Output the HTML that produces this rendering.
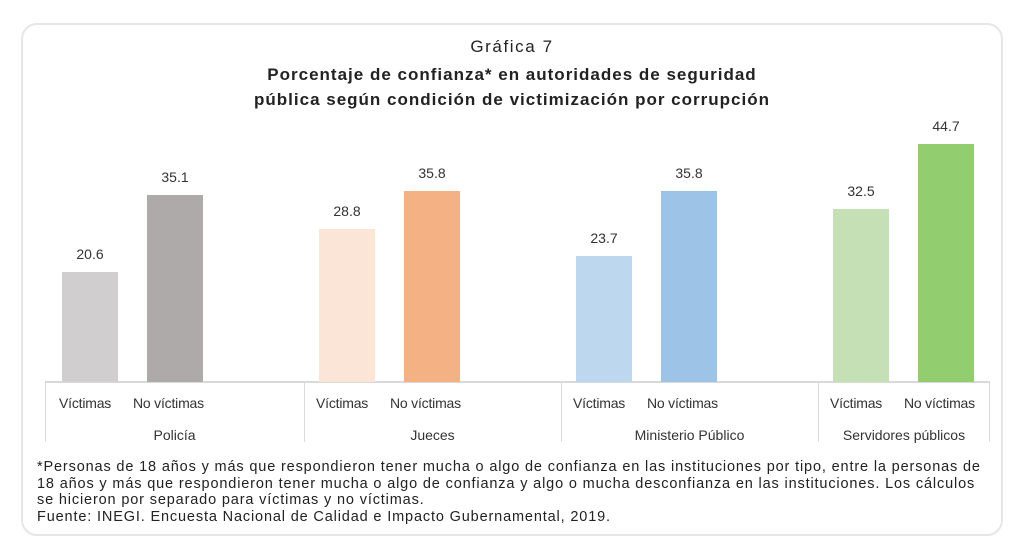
<!DOCTYPE html>
<html><head><meta charset="utf-8"><style>
body{margin:0;width:1024px;height:552px;background:#fff;font-family:"Liberation Sans",sans-serif;color:#333;position:relative;overflow:hidden}
.card{position:absolute;left:21px;top:23px;width:982px;height:513px;border:2px solid #e6e6e6;border-radius:16px;box-sizing:border-box}
.t{position:absolute;left:0;width:1024px;text-align:center;font-size:17px;color:#222;letter-spacing:1px}
.b{font-weight:bold}
.bar{position:absolute;width:56px;bottom:170px}
.v{position:absolute;width:56px;text-align:center;font-size:14px;color:#333}
.l{position:absolute;font-size:14px;top:395px;white-space:nowrap;letter-spacing:-0.2px}
.g{position:absolute;font-size:14px;top:427px;text-align:center;white-space:nowrap}
.d{position:absolute;top:382px;width:1px;height:60px;background:#d9d9d9}
.f{position:absolute;left:37px;top:459px;font-size:14.5px;line-height:16.5px;color:#222;width:960px;letter-spacing:0.85px;white-space:nowrap}
</style></head><body>
<div class="card"></div>
<div class="t" style="top:37px;letter-spacing:1.6px">Gráfica 7</div>
<div class="t b" style="top:65px">Porcentaje de confianza* en autoridades de seguridad</div>
<div class="t b" style="top:90px">pública según condición de victimización por corrupción</div>
<div style="position:absolute;left:45px;top:381px;width:945px;height:2px;background:#d9d9d9"></div>
<div class="d" style="left:45px"></div><div class="d" style="left:304px"></div><div class="d" style="left:561px"></div><div class="d" style="left:818px"></div><div class="d" style="left:989px"></div>

<div class="bar" style="left:62px;height:110px;background:#d0cece"></div><div class="v" style="left:62px;top:246px">20.6</div>
<div class="bar" style="left:147px;height:187px;background:#aeaaaa"></div><div class="v" style="left:147px;top:169px">35.1</div>
<div class="bar" style="left:319px;height:153px;background:#fbe5d6"></div><div class="v" style="left:319px;top:203px">28.8</div>
<div class="bar" style="left:404px;height:191px;background:#f4b183"></div><div class="v" style="left:404px;top:165px">35.8</div>
<div class="bar" style="left:576px;height:126px;background:#bdd7ee"></div><div class="v" style="left:576px;top:230px">23.7</div>
<div class="bar" style="left:661px;height:191px;background:#9dc3e6"></div><div class="v" style="left:661px;top:165px">35.8</div>
<div class="bar" style="left:833px;height:173px;background:#c5e0b4"></div><div class="v" style="left:833px;top:183px">32.5</div>
<div class="bar" style="left:918px;height:238px;background:#92cd6f"></div><div class="v" style="left:918px;top:118px">44.7</div>

<div class="l" style="left:59px">Víctimas</div><div class="l" style="left:133px">No víctimas</div>
<div class="l" style="left:316px">Víctimas</div><div class="l" style="left:390px">No víctimas</div>
<div class="l" style="left:573px">Víctimas</div><div class="l" style="left:647px">No víctimas</div>
<div class="l" style="left:830px">Víctimas</div><div class="l" style="left:904px">No víctimas</div>
<div class="g" style="left:45px;width:259px">Policía</div>
<div class="g" style="left:304px;width:257px">Jueces</div>
<div class="g" style="left:561px;width:257px">Ministerio Público</div>
<div class="g" style="left:818px;width:172px">Servidores públicos</div>
<div class="f">*Personas de 18 años y más que respondieron tener mucha o algo de confianza en las instituciones por tipo, entre la personas de<br>18 años y más que respondieron tener mucha o algo de confianza y algo o mucha desconfianza en las instituciones. Los cálculos<br>se hicieron por separado para víctimas y no víctimas.<br>Fuente: INEGI. Encuesta Nacional de Calidad e Impacto Gubernamental, 2019.</div>
</body></html>
